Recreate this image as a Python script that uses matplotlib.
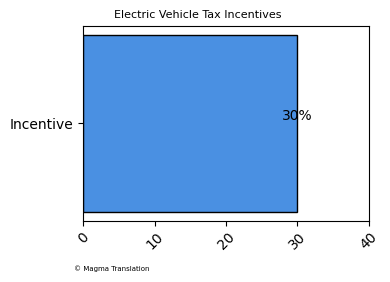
import numpy as np
from matplotlib import pyplot as plt

categories = ['Incentive']
values = [30]
labels = ['30%']

fig, ax = plt.subplots(figsize=(3.9, 2.82), dpi=100)
ax.barh(categories, values, color='#4a90e2', edgecolor='black')
for c, v, l in zip(categories, values, labels):
    ax.text(v, c, l, ha='center', va='bottom', fontsize=10)

ax.set_xlim(0, 40)
ax.set_xticks([0, 10, 20, 30, 40])
plt.xticks(rotation=45)
fig.suptitle('Electric Vehicle Tax Incentives', fontsize=8, x=0.507, y=0.965)
fig.text(0.19, 0.04, '© Magma Translation', fontsize=5)
fig.subplots_adjust(left=0.213, right=0.946, top=0.908, bottom=0.218)
fig.savefig('out.png')
